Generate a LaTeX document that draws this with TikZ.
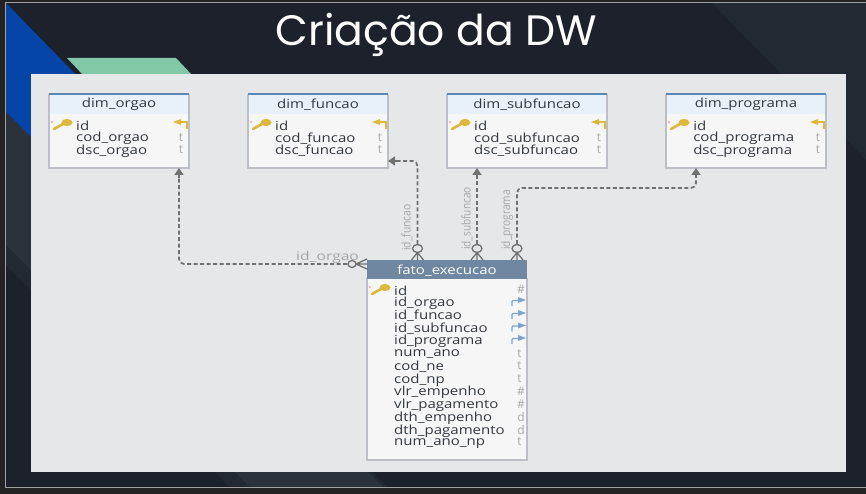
\documentclass[tikz,border=0pt]{standalone}
\usepackage{fontspec}
\setmainfont{Open Sans}
\newfontfamily\titlefont{Poppins}
\usetikzlibrary{arrows.meta,calc}
\definecolor{outerc}{HTML}{232323}
\definecolor{slidec}{HTML}{1C212C}
\definecolor{slidel}{HTML}{2B323C}
\definecolor{slidem}{HTML}{232933}
\definecolor{bluec}{HTML}{0545A8}
\definecolor{greenc}{HTML}{83C8A6}
\definecolor{panelc}{HTML}{E6E7E9}
\definecolor{tabline}{HTML}{BCC0C6}
\definecolor{tabtop}{HTML}{5B87B5}
\definecolor{headc}{HTML}{E8F0F9}
\definecolor{bodyc}{HTML}{F6F6F7}
\definecolor{factc}{HTML}{6F87A0}
\definecolor{txtc}{HTML}{33383F}
\definecolor{typec}{HTML}{A8A8A8}
\definecolor{connc}{HTML}{707070}
\definecolor{lblc}{HTML}{A3A5A8}
\definecolor{keyc}{HTML}{DDB83C}
\definecolor{fkc}{HTML}{7BA6CF}
\tikzset{
  x=1pt,y=-1pt,
  headtxt/.style={font=\fontsize{12.5}{13}\selectfont,text=txtc,inner sep=0pt,anchor=center,xscale=1.2,transform shape},
  facttxt/.style={font=\fontsize{12.5}{13}\selectfont,text=white,inner sep=0pt,anchor=center,xscale=1.2,transform shape},
  coltxt/.style={font=\fontsize{12.5}{13}\selectfont,text=txtc,inner sep=0pt,anchor=west,xscale=1.2,transform shape},
  typetxt/.style={font=\fontsize{12}{13}\selectfont,text=typec,inner sep=0pt,anchor=center},
  conn/.style={draw=connc,line width=1.7pt,dash pattern=on 4pt off 2.5pt,rounded corners=5pt},
  arrowhd/.style={draw=connc,line width=1.7pt,-{Triangle[length=7pt,width=9pt]}},
  crow/.style={draw=connc,line width=1.3pt},
  rellbl/.style={font=\fontsize{12}{13}\selectfont,text=lblc,inner sep=0pt},
}
\newcommand{\keyat}[2]{%
  \draw[keyc,line width=2.6pt,line cap=round] (#1+10,#2-1) -- (#1+1,#2+4);
  \fill[keyc] (#1+14,#2-2.5) circle[x radius=5.5pt,y radius=3.6pt];
  \fill[red!55!white] (#1-1,#2-3) circle[radius=0.9pt];
}
\newcommand{\pkmark}[2]{%
  \draw[keyc,line width=1.2pt] (#1+7,#2+7) -- (#1+7,#2) -- (#1,#2);
  \fill[keyc] (#1-7,#2) -- (#1+1,#2-3) -- (#1+1,#2+3) -- cycle;
}
\newcommand{\fkmark}[2]{%
  \draw[fkc,line width=1.1pt,rounded corners=1pt] (#1-5,#2+6) -- (#1-5,#2+0.5) -- (#1+2,#2+0.5);
  \fill[fkc] (#1+9,#2) -- (#1+1,#2-3) -- (#1+1,#2+3) -- cycle;
}
\newcommand{\dimtable}[6]{% name,left,width,title,col2,col3
  \fill[bodyc] (#2,94) rectangle (#2+#3,168);
  \fill[headc] (#2,94) rectangle (#2+#3,114);
  \draw[tabline,line width=1.3pt] (#2,94) -- (#2,168) -- (#2+#3,168) -- (#2+#3,94);
  \draw[draw=tabtop,line width=1.5pt] (#2,94) -- (#2+#3,94);
  \node[headtxt] (#1) at (#2+#3/2,104.5) {#4};
  \keyat{#2+4}{125}
  \node[coltxt] (#1id) at (#2+27,125.5) {id};
  \node[coltxt] (#1a) at (#2+27,138.5) {#5};
  \node[coltxt] (#1b) at (#2+27,151) {#6};
  \pkmark{#2+#3-9}{122}
  \node[typetxt] (#1ta) at (#2+#3-8,137.5) {t};
  \node[typetxt] (#1tb) at (#2+#3-8,150) {t};
}
\begin{document}
\begin{tikzpicture}
\useasboundingbox (0,0) rectangle (866,494);
\fill[outerc] (0,0) rectangle (866,494);
\fill[slidec] (6,3) rectangle (866,487);
% lighter facets
\fill[slidem] (6,245) -- (31,270) -- (31,290) -- (6,265) -- cycle;
\fill[slidel] (6,112) -- (31,137) -- (31,270) -- (6,245) -- cycle;
\fill[slidem] (712,3) -- (866,3) -- (866,160) -- cycle;
\fill[slidem] (215,472) -- (372,472) -- (387,487) -- (230,487) -- cycle;
\fill[slidel] (235,472) -- (368,472) -- (383,487) -- (250,487) -- cycle;
\draw[gray!75,line width=0.8pt] (866,2.5) -- (5.5,2.5) -- (5.5,487.5) -- (866,487.5);
% shapes
\fill[bluec] (6,3) -- (85,84) -- (31,137) -- (6,112) -- cycle;
\fill[greenc] (67,58) -- (176,58) -- (192,75) -- (83,75) -- cycle;
\fill[panelc] (31,74) rectangle (846,472);
% title
\node[font=\titlefont\fontsize{42.5}{46}\selectfont,text=white,inner sep=0pt] (title) at (436,35) {Criação da DW};
% tables
\dimtable{orgao}{49}{140}{dim\_orgao}{cod\_orgao}{dsc\_orgao}
\dimtable{funcao}{248}{140}{dim\_funcao}{cod\_funcao}{dsc\_funcao}
\dimtable{subf}{447}{160}{dim\_subfuncao}{cod\_subfuncao}{dsc\_subfuncao}
\dimtable{prog}{666}{160}{dim\_programa}{cod\_programa}{dsc\_programa}
% fact table
\fill[bodyc] (367,260) rectangle (527,460);
\draw[tabline,line width=1.3pt] (367,278) -- (367,460) -- (527,460) -- (527,278);
\fill[factc] (367,260) rectangle (527,279);
\node[facttxt] (fact) at (447,270.5) {fato\_execucao};
\keyat{371}{290}
\foreach \nm/\yy [count=\i] in {id/290.5,id\_orgao/303.5,id\_funcao/316,id\_subfuncao/329,id\_programa/341.5,num\_ano/354.5,cod\_ne/367,cod\_np/380,vlr\_empenho/392.5,vlr\_pagamento/405.5,dth\_empenho/418,dth\_pagamento/431,num\_ano\_np/443.5}{
  \node[coltxt] (col\i) at (394,\yy) {\nm};
}
\foreach \tp/\yy/\xx [count=\i] in {\#/289/521,t/353.5/519.5,t/366/519.5,t/379/519.5,\#/391/521,\#/404/521,d/417/521,d/429.5/521,t/442/519.5}{
  \node[typetxt] (type\i) at (\xx,\yy) {\tp};
}
\foreach \yy in {300,313,325.5,338}{\fkmark{517}{\yy}}
% anchors for connectors
\coordinate (oe) at (179,168);
\coordinate (os) at (347,264);
\coordinate (fe) at (388,161);
\coordinate (fs) at (417.5,244);
\coordinate (se) at (477,168);
\coordinate (ss) at (477,244);
\coordinate (pe) at (696,168);
\coordinate (ps) at (517,244);
% connectors
\draw[conn] (os) -- (179,264) -- (179,178);
\draw[conn] (fs) -- (417.5,161) -- (398,161);
\draw[conn] (ss) -- (477,178);
\draw[conn] (ps) -- (517,188) -- (696,188) -- (696,178);
\draw[arrowhd] (179,178) -- (oe);
\draw[arrowhd] (398,161) -- (fe);
\draw[arrowhd] (477,178) -- (se);
\draw[arrowhd] (696,178) -- (pe);
% crow's feet
\draw[crow] (352,264) circle[x radius=4pt,y radius=3.5pt];
\draw[crow] (356,264) -- (367,259) (356,264) -- (367,264) (356,264) -- (367,269);
\foreach \xx in {417.5,477,517}{
  \draw[crow] (\xx,248.5) circle[x radius=5pt,y radius=4pt];
  \draw[crow] (\xx,252.5) -- (\xx-6,260) (\xx,252.5) -- (\xx,260) (\xx,252.5) -- (\xx+6,260);
}
% relation labels
\node[rellbl,xscale=1.3,transform shape] (lo) at (327.5,257.5) {id\_orgao};
\node[rellbl,rotate=90,xscale=0.86,transform shape] (lf) at (407,227.5) {id\_funcao};
\node[rellbl,rotate=90,xscale=0.84,transform shape] (ls) at (467,218.5) {id\_subfuncao};
\node[rellbl,rotate=90,xscale=0.84,transform shape] (lp) at (507,220) {id\_programa};
\end{tikzpicture}
\end{document}
